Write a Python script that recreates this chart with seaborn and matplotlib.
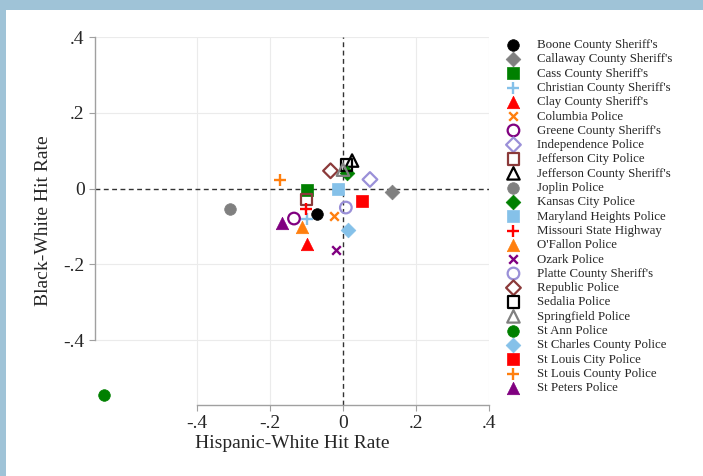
import matplotlib
matplotlib.use("Agg")
import matplotlib.pyplot as plt
from matplotlib.patches import Rectangle
from matplotlib.ticker import FixedLocator, FuncFormatter
import seaborn as sns
import pandas as pd

# Agencies, hit-rate gaps relative to White drivers
agencies = [
    "Boone County Sheriff's", "Callaway County Sheriff's", "Cass County Sheriff's",
    "Christian County Sheriff's", "Clay County Sheriff's", "Columbia Police",
    "Greene County Sheriff's", "Independence Police", "Jefferson City Police",
    "Jefferson County Sheriff's", "Joplin Police", "Kansas City Police",
    "Maryland Heights Police", "Missouri State Highway", "O'Fallon Police",
    "Ozark Police", "Platte County Sheriff's", "Republic Police", "Sedalia Police",
    "Springfield Police", "St Ann Police", "St Charles County Police",
    "St Louis City Police", "St Louis County Police", "St Peters Police",
]
hispanic_white = [
    -0.071, 0.134, -0.099, -0.099, -0.099, -0.025, -0.134, 0.074, -0.100,
    0.025, -0.310, 0.011, -0.014, -0.100, -0.111, -0.020, 0.008, -0.034,
    0.010, 0.000, -0.655, 0.014, 0.052, -0.171, -0.166,
]
black_white = [
    -0.068, -0.010, -0.005, -0.079, -0.145, -0.071, -0.079, 0.024, -0.029,
    0.074, -0.053, 0.040, 0.000, -0.055, -0.102, -0.162, -0.050, 0.047,
    0.062, 0.050, -0.545, -0.110, -0.034, 0.024, -0.092,
]
tick_values = [-0.4, -0.2, 0.0, 0.2, 0.4]

# Marker style per agency: (marker, colour, filled)
BLACK, GRAY, GREEN = "#000000", "#808080", "#008000"
LTBLUE, RED, ORANGE = "#85c1e9", "#ff0000", "#ff7f0e"
PURPLE, LAVENDER, MAROON = "#800080", "#9a90d8", "#8b3a3a"
styles = [
    ("o", BLACK, True), ("D", GRAY, True), ("s", GREEN, True),
    ("+", LTBLUE, True), ("^", RED, True), ("x", ORANGE, True),
    ("o", PURPLE, False), ("D", LAVENDER, False), ("s", MAROON, False),
    ("^", BLACK, False), ("o", GRAY, True), ("D", GREEN, True),
    ("s", LTBLUE, True), ("+", RED, True), ("^", ORANGE, True),
    ("x", PURPLE, True), ("o", LAVENDER, False), ("D", MAROON, False),
    ("s", BLACK, False), ("^", GRAY, False), ("o", GREEN, True),
    ("D", LTBLUE, True), ("s", RED, True), ("+", ORANGE, True),
    ("^", PURPLE, True),
]
sizes = {"o": 70, "s": 68, "D": 56, "^": 80, "+": 64, "x": 38}

df = pd.DataFrame({"agency": agencies, "hisp": hispanic_white, "black": black_white})

sns.set_style("white")
plt.rcParams["font.family"] = ["Liberation Serif", "DejaVu Serif"]

fig = plt.figure(figsize=(7.03, 4.76), dpi=100)
fig.patch.set_facecolor("#9fc3d7")
fig.patches.append(Rectangle((6 / 703, 0), 1, 1 - 10 / 476, transform=fig.transFigure,
                             facecolor="white", edgecolor="none", zorder=-5))

ax = fig.add_axes([95 / 703, 1 - 405 / 476, (489 - 95) / 703, (405 - 37) / 476])
ax.set_facecolor("none")
ax.set_xlim(-0.679, 0.4)
ax.set_ylim(-0.571, 0.4)

# Light grid at the labelled ticks, dashed reference lines at zero
for v in [-0.4, -0.2, 0.2, 0.4]:
    ax.axvline(v, color="#ebebeb", lw=0.8, zorder=0)
    ax.axhline(v, color="#ebebeb", lw=0.8, zorder=0)
ax.axvline(0, color="#333333", lw=1.0, ls=(0, (3.5, 2.5)), zorder=1)
ax.axhline(0, color="#333333", lw=1.0, ls=(0, (3.5, 2.5)), zorder=1)

for (_, row), (m, c, filled) in zip(df.iterrows(), styles):
    kw = dict(marker=m, s=sizes[m], color=c, edgecolor=c, label=row["agency"], ax=ax,
              zorder=3, legend=False)
    if m in ("+", "x"):
        kw["linewidth"] = 1.7
    elif filled:
        kw["linewidth"] = 0.5
    else:
        kw["facecolor"] = "none"
        kw["linewidth"] = 1.6
    sns.scatterplot(x=[row["hisp"]], y=[row["black"]], **kw)

for side in ("top", "right"):
    ax.spines[side].set_visible(False)
for side in ("left", "bottom"):
    ax.spines[side].set_color("#a0a0a0")
    ax.spines[side].set_linewidth(1.0)
    ax.spines[side].set_bounds(-0.4, 0.4)

fmt = FuncFormatter(lambda v, _: "0" if abs(v) < 1e-9 else f"{v:.1f}".replace("0.", "."))
ax.xaxis.set_major_locator(FixedLocator(tick_values))
ax.yaxis.set_major_locator(FixedLocator(tick_values))
ax.xaxis.set_major_formatter(fmt)
ax.yaxis.set_major_formatter(fmt)
ax.tick_params(axis="both", which="major", direction="out", length=4.5, width=0.8,
               color="#a0a0a0", labelsize=14, pad=3, left=True, bottom=True)
ax.grid(False)

ax.set_xlabel("Hispanic-White Hit Rate", fontsize=14, labelpad=2)
ax.set_ylabel("Black-White Hit Rate", fontsize=14, labelpad=8)

handles, labels = ax.get_legend_handles_labels()
leg = fig.legend(handles, labels, loc="upper left", bbox_to_anchor=(507 / 703, 1 - 39 / 476),
                 frameon=False, fontsize=9.3, labelspacing=0.175, handletextpad=1.3,
                 handlelength=1.0, borderaxespad=0, borderpad=0, scatterpoints=1)

fig.savefig("out.png", dpi=100, facecolor=fig.get_facecolor())
